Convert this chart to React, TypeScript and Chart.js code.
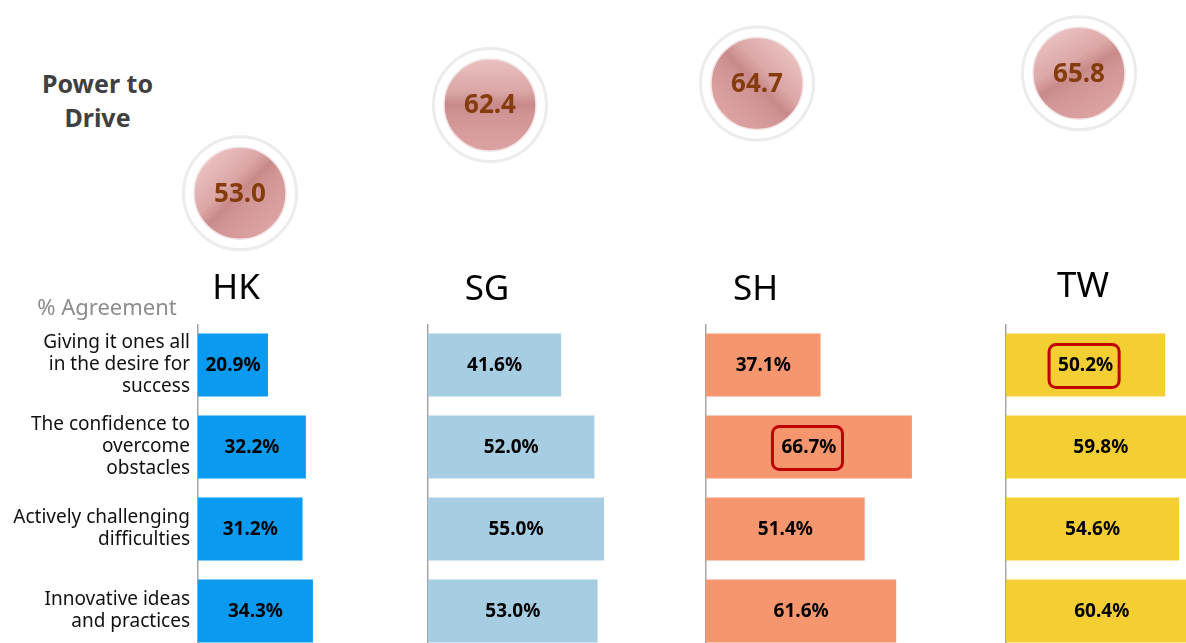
import React, { useEffect, useRef } from "react";
import { Chart, registerables } from "chart.js";

Chart.register(...registerables);

// ---------------- DATA ----------------
const countries = ["HK", "SG", "SH", "TW"];
const attributes = [
  ["Giving it ones all", "in the desire for", "success"],
  ["The confidence to", "overcome", "obstacles"],
  ["Actively challenging", "difficulties"],
  ["Innovative ideas", "and practices"],
];
const hkValues = [20.9, 32.2, 31.2, 34.3];
const sgValues = [41.6, 52.0, 55.0, 53.0];
const shValues = [37.1, 66.7, 51.4, 61.6];
const twValues = [50.2, 59.8, 54.6, 60.4];
const powerToDrive = [53.0, 62.4, 64.7, 65.8];
const hkHighlight: number[] = [];
const sgHighlight: number[] = [];
const shHighlight = [1];
const twHighlight = [0];

// ---------------- LAYOUT / STYLE ----------------
const FONT = "'Noto Sans', 'DejaVu Sans', sans-serif";
const panels = [
  { values: hkValues, highlight: hkHighlight, color: "#0a9aef", left: 0, axisW: 198, width: 399, max: 60, cx: 240, labelX: 236, labelY: 284.5, showLabels: true, angle: 45 },
  { values: sgValues, highlight: sgHighlight, color: "#a7cde3", left: 425.5, axisW: 2, width: 226, max: 70, cx: 490, labelX: 487, labelY: 286, showLabels: false, angle: 90 },
  { values: shValues, highlight: shHighlight, color: "#f6966f", left: 703.5, axisW: 2, width: 249, max: 80, cx: 757, labelX: 755.5, labelY: 286, showLabels: false, angle: 135 },
  { values: twValues, highlight: twHighlight, color: "#f4cf34", left: 1004, axisW: 2, width: 224, max: 70, cx: 1079, labelX: 1083, labelY: 283, showLabels: false, angle: 60 },
];
const BAR_TOP = 324;
const BAR_H = 328;
const SCORE_TOP = -13;
const SCORE_H = 328;
const SCORE_W = 140;

function BarPanel({ idx }: { idx: number }) {
  const ref = useRef<HTMLCanvasElement>(null);
  const p = panels[idx];
  useEffect(() => {
    if (!ref.current) return;
    const labelPlugin = {
      id: "barLabels",
      afterDatasetsDraw(chart: any) {
        const ctx = chart.ctx;
        const meta = chart.getDatasetMeta(0);
        ctx.save();
        ctx.font = `bold 19px ${FONT}`;
        ctx.textAlign = "center";
        ctx.textBaseline = "middle";
        meta.data.forEach((el: any, i: number) => {
          const v = p.values[i];
          const txt = v.toFixed(1) + "%";
          const x = (el.x + el.base) / 2;
          const y = el.y;
          ctx.fillStyle = "#000000";
          ctx.fillText(txt, x, y + 1);
          if (p.highlight.includes(i)) {
            const w = ctx.measureText(txt).width + 15;
            const h = 43;
            ctx.beginPath();
            ctx.strokeStyle = "#c00000";
            ctx.lineWidth = 3;
            (ctx as any).roundRect(x - w / 2 - 1.5, y - h / 2 + 1, w, h, 7);
            ctx.stroke();
          }
        });
        ctx.restore();
      },
    };
    const chart = new Chart(ref.current, {
      type: "bar",
      data: {
        labels: attributes,
        datasets: [
          {
            data: p.values,
            backgroundColor: p.color,
            borderWidth: 0,
            barPercentage: 0.77,
            categoryPercentage: 1,
          },
        ],
      },
      options: {
        indexAxis: "y",
        animation: false,
        responsive: false,
        events: [],
        layout: { padding: 0, autoPadding: false },
        plugins: { legend: { display: false }, tooltip: { enabled: false }, title: { display: false } },
        scales: {
          x: { display: false, min: 0, max: p.max },
          y: {
            display: true,
            grid: { display: false, drawTicks: false },
            border: { display: true, color: "#a6a6a6", width: 1.5 },
            ticks: {
              display: p.showLabels,
              padding: 8,
              color: "#111111",
              font: { family: FONT, size: 19, lineHeight: 1.16 },
            },
            afterFit: (axis: any) => {
              axis.width = p.axisW;
              axis.paddingTop = 0;
              axis.paddingBottom = 0;
            },
          },
        },
      },
      plugins: [labelPlugin],
    } as any);
    return () => chart.destroy();
  }, []);
  return (
    <canvas
      ref={ref}
      width={p.width}
      height={BAR_H}
      style={{ position: "absolute", left: p.left, top: BAR_TOP, width: p.width, height: BAR_H }}
    />
  );
}

function ScorePanel({ idx }: { idx: number }) {
  const ref = useRef<HTMLCanvasElement>(null);
  const p = panels[idx];
  useEffect(() => {
    if (!ref.current) return;
    const R = 46;
    const gradient = (c: any) => {
      const chart = c.chart;
      const xs = chart.scales?.x;
      const ys = chart.scales?.y;
      if (!xs || !ys || !chart.chartArea) return "#d09292";
      const x = xs.getPixelForValue(0);
      const y = ys.getPixelForValue(powerToDrive[idx]);
      const a = (p.angle * Math.PI) / 180;
      const dx = Math.cos(a) * R;
      const dy = Math.sin(a) * R;
      const g = chart.ctx.createLinearGradient(x - dx, y - dy, x + dx, y + dy);
      g.addColorStop(0, "#ebc0c0");
      g.addColorStop(0.35, "#dba6a6");
      g.addColorStop(0.5, "#c88989");
      g.addColorStop(0.62, "#d19595");
      g.addColorStop(1, "#dda2a2");
      return g;
    };
    const textPlugin = {
      id: "scoreText",
      afterDatasetsDraw(chart: any) {
        const ctx = chart.ctx;
        const meta = chart.getDatasetMeta(0);
        ctx.save();
        ctx.font = `bold 26px ${FONT}`;
        ctx.textAlign = "center";
        ctx.textBaseline = "middle";
        ctx.fillStyle = "#843c0c";
        meta.data.forEach((el: any) => {
          ctx.fillText(powerToDrive[idx].toFixed(1), el.x, el.y + 1);
        });
        ctx.restore();
      },
    };
    const chart = new Chart(ref.current, {
      type: "line",
      data: {
        labels: [countries[idx]],
        datasets: [
          {
            data: [powerToDrive[idx]],
            showLine: false,
            pointRadius: R,
            pointBackgroundColor: gradient,
            pointBorderColor: "#f2e4e4",
            pointBorderWidth: 1.5,
            order: 0,
            clip: false,
          },
          {
            data: [powerToDrive[idx]],
            showLine: false,
            pointRadius: 56.5,
            pointBackgroundColor: "#ffffff",
            pointBorderColor: "#ececec",
            pointBorderWidth: 3,
            order: 1,
            clip: false,
          },
        ],
      },
      options: {
        animation: false,
        responsive: false,
        events: [],
        layout: { padding: 0, autoPadding: false },
        plugins: { legend: { display: false }, tooltip: { enabled: false } },
        scales: {
          x: { type: "category", offset: true, display: false },
          y: { min: 40, max: 75, display: false },
        },
      },
      plugins: [textPlugin],
    } as any);
    return () => chart.destroy();
  }, []);
  return (
    <canvas
      ref={ref}
      width={SCORE_W}
      height={SCORE_H}
      style={{ position: "absolute", left: p.cx - SCORE_W / 2, top: SCORE_TOP, width: SCORE_W, height: SCORE_H }}
    />
  );
}

export default function App() {
  return (
    <div
      style={{
        position: "fixed",
        left: 0,
        top: 0,
        width: 1186,
        height: 643,
        overflow: "hidden",
        background: "#ffffff",
        fontFamily: FONT,
      }}
    >
      {panels.map((_, i) => (
        <ScorePanel key={"s" + i} idx={i} />
      ))}
      {panels.map((_, i) => (
        <BarPanel key={"b" + i} idx={i} />
      ))}
      <div
        style={{
          position: "absolute",
          left: 97.5,
          top: 65.7,
          transform: "translateX(-50%)",
          fontSize: 25,
          lineHeight: "34px",
          fontWeight: 700,
          color: "#404040",
          textAlign: "center",
          whiteSpace: "nowrap",
        }}
      >
        Power to
        <br />
        Drive
      </div>
      <div
        style={{
          position: "absolute",
          left: 107,
          top: 306.3,
          transform: "translate(-50%, -50%)",
          fontSize: 22,
          lineHeight: 1,
          color: "#8c8c8c",
          whiteSpace: "nowrap",
        }}
      >
        % Agreement
      </div>
      {panels.map((p, i) => (
        <div
          key={"c" + i}
          style={{
            position: "absolute",
            left: p.labelX,
            top: p.labelY,
            transform: "translate(-50%, -50%)",
            fontSize: 35,
            lineHeight: 1,
            color: "#000000",
            whiteSpace: "nowrap",
          }}
        >
          {countries[i]}
        </div>
      ))}
    </div>
  );
}
